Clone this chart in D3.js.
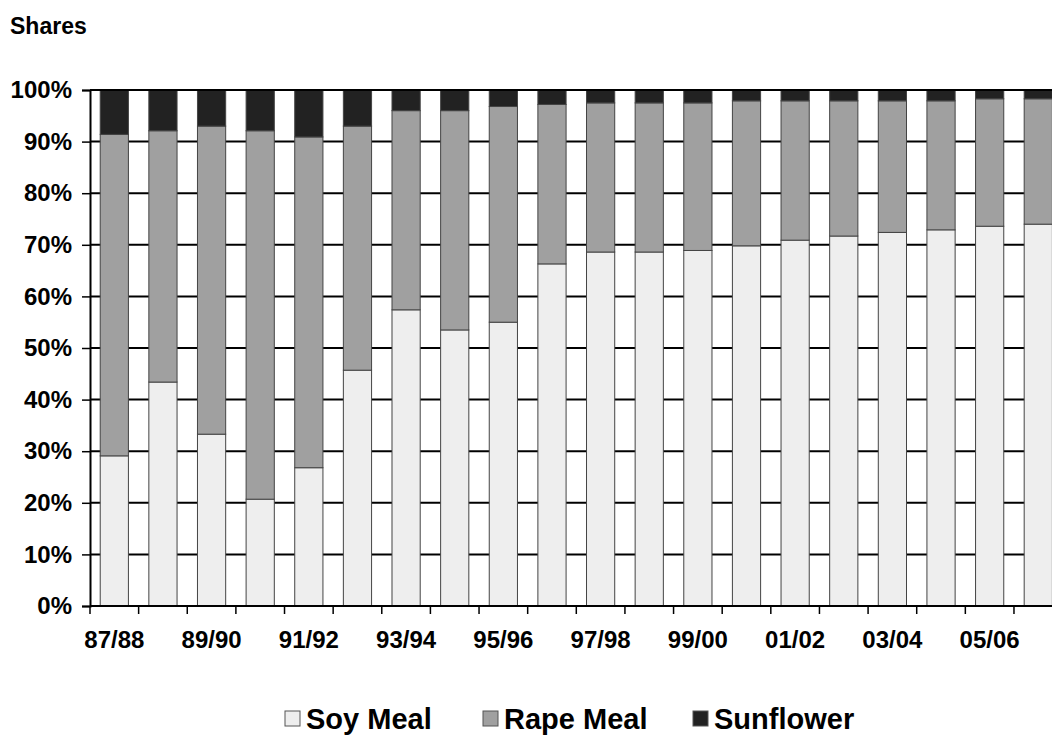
<!DOCTYPE html>
<html>
<head>
<meta charset="utf-8">
<script src="https://cdn.jsdelivr.net/npm/d3@7/dist/d3.min.js"></script>
<style>
  html, body { margin: 0; padding: 0; background: #fff; }
  svg { display: block; font-family: Arial, "Liberation Sans", sans-serif; }
</style>
</head>
<body>
<svg id="chart" width="1052" height="737"></svg>
<script>
const categories = ["87/88","88/89","89/90","90/91","91/92","92/93","93/94","94/95","95/96","96/97",
                    "97/98","98/99","99/00","00/01","01/02","02/03","03/04","04/05","05/06","06/07"];
const soyMeal   = [29.1, 43.4, 33.3, 20.7, 26.8, 45.7, 57.4, 53.5, 55.0, 66.3,
                   68.6, 68.6, 68.9, 69.8, 70.9, 71.7, 72.4, 72.9, 73.6, 74.0];
const rapeMeal  = [62.3, 48.7, 59.7, 71.4, 64.1, 47.3, 38.6, 42.5, 41.8, 30.9,
                   28.9, 28.9, 28.6, 28.1, 27.0, 26.2, 25.5, 25.0, 24.7, 24.3];
const sunflower = [8.6, 7.9, 7.0, 7.9, 9.1, 7.0, 4.0, 4.0, 3.2, 2.8,
                   2.5, 2.5, 2.5, 2.1, 2.1, 2.1, 2.1, 2.1, 1.7, 1.7];
const seriesNames = ["Soy Meal", "Rape Meal", "Sunflower"];
const seriesColors = ["#eeeeee", "#a0a0a0", "#222222"];
const yTicks = [0, 10, 20, 30, 40, 50, 60, 70, 80, 90, 100];
const shownLabels = ["87/88","89/90","91/92","93/94","95/96","97/98","99/00","01/02","03/04","05/06"];

const svg = d3.select("#chart");
const plotLeft = 90, plotTop = 90, plotBottom = 606;
const bandW = 48.63;
const plotRight = plotLeft + bandW * categories.length;

const x = d3.scaleBand().domain(categories).range([plotLeft, plotRight]).paddingInner(0.42).paddingOuter(0.21);
const xb = d3.scaleBand().domain(categories).range([plotLeft, plotRight]).padding(0);
const y = d3.scaleLinear().domain([0, 100]).range([plotBottom, plotTop]);

const rows = categories.map((c, i) => ({cat: c, "Soy Meal": soyMeal[i], "Rape Meal": rapeMeal[i], "Sunflower": sunflower[i]}));
const stacked = d3.stack().keys(seriesNames)(rows);

// title
svg.append("text").attr("x", 10).attr("y", 34).attr("font-size", 23).attr("font-weight", "bold").text("Shares");

// gridlines
svg.append("g").selectAll("line").data(yTicks.filter(t => t > 0)).join("line")
  .attr("x1", plotLeft).attr("x2", 1052).attr("y1", d => y(d)).attr("y2", d => y(d))
  .attr("stroke", "#000").attr("stroke-width", 2);

// bars
const colorOf = d3.scaleOrdinal().domain(seriesNames).range(seriesColors);
svg.append("g").selectAll("g").data(stacked).join("g")
  .attr("fill", d => colorOf(d.key))
  .selectAll("rect").data(d => d).join("rect")
  .attr("x", d => x(d.data.cat))
  .attr("width", x.bandwidth())
  .attr("y", d => y(d[1]))
  .attr("height", d => y(d[0]) - y(d[1]))
  .attr("stroke", "#444").attr("stroke-width", 1);

// top border
svg.append("line").attr("x1", plotLeft).attr("x2", 1052).attr("y1", y(100)).attr("y2", y(100))
  .attr("stroke", "#000").attr("stroke-width", 2);

// y axis
const yAxis = d3.axisLeft(y).tickValues(yTicks).tickFormat(d => d + "%").tickSize(8).tickPadding(10);
const gy = svg.append("g").attr("transform", `translate(${plotLeft},0)`).call(yAxis);
gy.select(".domain").attr("stroke", "#000").attr("stroke-width", 2);
gy.selectAll(".tick line").attr("stroke", "#000").attr("stroke-width", 1.5);
gy.selectAll(".tick text").attr("font-size", 24).attr("font-weight", "bold").attr("fill", "#000")
  .attr("font-family", "Arial, 'Liberation Sans', sans-serif");

// x axis: ticks at band boundaries
const boundaries = categories.map(c => xb(c)).concat([plotRight]);
svg.append("g").selectAll("line").data(boundaries).join("line")
  .attr("x1", d => d).attr("x2", d => d).attr("y1", plotBottom).attr("y2", plotBottom + 8)
  .attr("stroke", "#000").attr("stroke-width", 1.5);
svg.append("line").attr("x1", plotLeft).attr("x2", 1052).attr("y1", plotBottom).attr("y2", plotBottom)
  .attr("stroke", "#000").attr("stroke-width", 2);
svg.append("g").selectAll("text").data(shownLabels).join("text")
  .attr("x", d => xb(d) + xb.bandwidth() / 2).attr("y", 648)
  .attr("text-anchor", "middle").attr("font-size", 24).attr("font-weight", "bold").text(d => d);

// legend
const legendX = [285, 483, 693];
const lg = svg.append("g").selectAll("g").data(seriesNames).join("g")
  .attr("transform", (d, i) => `translate(${legendX[i]},711)`);
lg.append("rect").attr("width", 15).attr("height", 15).attr("fill", d => colorOf(d)).attr("stroke", "#555");
lg.append("text").attr("x", 21).attr("y", 18).attr("font-size", 29).attr("font-weight", "bold").text(d => d);
</script>
</body>
</html>
